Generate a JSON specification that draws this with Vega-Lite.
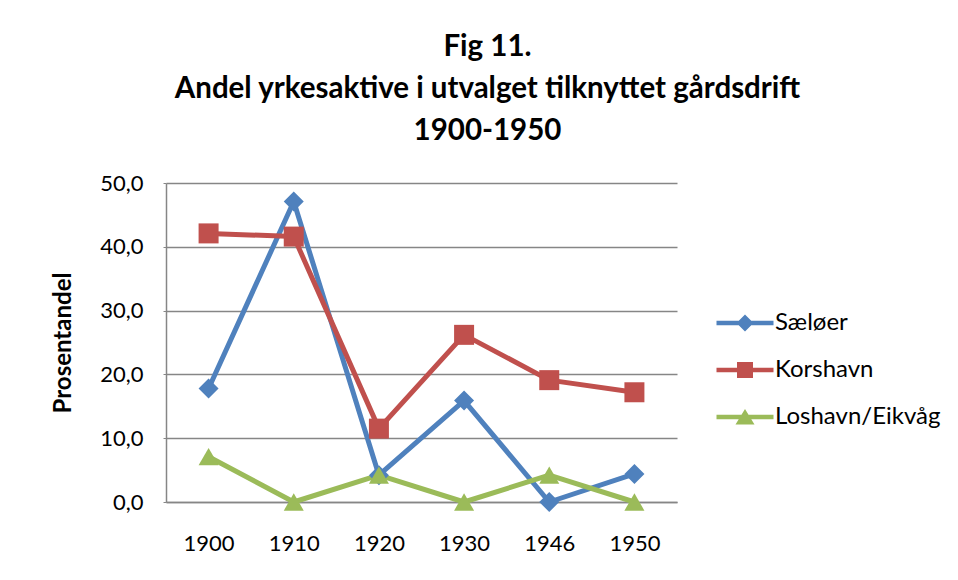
{
  "$schema": "https://vega.github.io/schema/vega-lite/v6.json",
  "width": 511,
  "height": 319,
  "autosize": {"type": "none"},
  "padding": {"left": 166, "top": 183, "right": 281, "bottom": 78},
  "background": "white",
  "title": {
    "text": ["Fig 11.", "Andel yrkesaktive i utvalget tilknyttet gårdsdrift", "1900-1950"],
    "font": "Lato",
    "fontSize": 29.5,
    "fontWeight": "bold",
    "color": "black",
    "anchor": "middle",
    "frame": "group",
    "dx": 66,
    "lineHeight": 42,
    "offset": 26
  },
  "data": {
    "values": [
      {"year": "1900", "series": "Sæløer", "value": 17.8},
      {"year": "1910", "series": "Sæløer", "value": 47.1},
      {"year": "1920", "series": "Sæløer", "value": 4.2},
      {"year": "1930", "series": "Sæløer", "value": 15.9},
      {"year": "1946", "series": "Sæløer", "value": 0.0},
      {"year": "1950", "series": "Sæløer", "value": 4.4},
      {"year": "1900", "series": "Korshavn", "value": 42.1},
      {"year": "1910", "series": "Korshavn", "value": 41.6},
      {"year": "1920", "series": "Korshavn", "value": 11.5},
      {"year": "1930", "series": "Korshavn", "value": 26.2},
      {"year": "1946", "series": "Korshavn", "value": 19.1},
      {"year": "1950", "series": "Korshavn", "value": 17.2},
      {"year": "1900", "series": "Loshavn/Eikvåg", "value": 7.1},
      {"year": "1910", "series": "Loshavn/Eikvåg", "value": 0.0},
      {"year": "1920", "series": "Loshavn/Eikvåg", "value": 4.2},
      {"year": "1930", "series": "Loshavn/Eikvåg", "value": 0.0},
      {"year": "1946", "series": "Loshavn/Eikvåg", "value": 4.2},
      {"year": "1950", "series": "Loshavn/Eikvåg", "value": 0.0}
    ]
  },
  "encoding": {
    "x": {
      "field": "year",
      "type": "ordinal",
      "scale": {"type": "point", "padding": 0.5},
      "axis": {
        "title": null,
        "labelAngle": 0,
        "labelFont": "Lato",
        "labelFontSize": 22,
        "labelColor": "black",
        "labelPadding": 31,
        "ticks": false,
        "domainColor": "#868686",
        "domainWidth": 1.5,
        "grid": false
      }
    },
    "y": {
      "field": "value",
      "type": "quantitative",
      "scale": {"domain": [0, 50], "nice": false},
      "axis": {
        "title": "Prosentandel",
        "titleFont": "Lato",
        "titleFontSize": 24,
        "titleFontWeight": "bold",
        "titleColor": "black",
        "titlePadding": 24,
        "values": [0, 10, 20, 30, 40, 50],
        "labelExpr": "replace(format(datum.value, '.1f'), '.', ',')",
        "labelFont": "Lato",
        "labelFontSize": 22,
        "labelColor": "black",
        "labelPadding": 20,
        "tickSize": 3,
        "tickColor": "#868686",
        "domainColor": "#868686",
        "domainWidth": 1.5,
        "gridColor": "#868686",
        "gridWidth": 1.5
      }
    },
    "color": {
      "field": "series",
      "type": "nominal",
      "sort": ["Sæløer", "Korshavn", "Loshavn/Eikvåg"],
      "scale": {
        "domain": ["Sæløer", "Korshavn", "Loshavn/Eikvåg"],
        "range": ["#4F81BD", "#C0504D", "#9BBB59"]
      },
      "legend": {
        "title": null,
        "orient": "none",
        "legendX": 567,
        "legendY": 128,
        "padding": 0,
        "symbolSize": 400,
        "symbolStrokeWidth": 0,
        "symbolOpacity": 1,
        "labelFont": "Lato",
        "labelFontSize": 24,
        "labelColor": "black",
        "labelOffset": 18,
        "labelLimit": 0,
        "rowPadding": 23
      }
    }
  },
  "layer": [
    {
      "mark": {"type": "line", "strokeWidth": 5, "strokeJoin": "round", "strokeCap": "round"}
    },
    {
      "transform": [{"filter": "datum.series === 'Sæløer'"}],
      "mark": {"type": "point", "shape": "diamond", "filled": true, "opacity": 1, "size": 400, "strokeWidth": 0}
    },
    {
      "transform": [{"filter": "datum.series === 'Korshavn'"}],
      "mark": {"type": "point", "shape": "square", "filled": true, "opacity": 1, "size": 400, "strokeWidth": 0}
    },
    {
      "transform": [{"filter": "datum.series === 'Loshavn/Eikvåg'"}],
      "mark": {"type": "point", "shape": "triangle-up", "filled": true, "opacity": 1, "size": 400, "strokeWidth": 0}
    },
    {
      "mark": {"type": "point", "filled": true, "opacity": 1, "size": 0, "strokeWidth": 0},
      "encoding": {
        "shape": {
          "field": "series",
          "type": "nominal",
          "scale": {
            "domain": ["Sæløer", "Korshavn", "Loshavn/Eikvåg"],
            "range": [
              "M-2.85,-0.22H2.85V0.22H-2.85Z M0,-0.85L0.85,0L0,0.85L-0.85,0Z",
              "M-2.85,-0.22H2.85V0.22H-2.85Z M-0.8,-0.8H0.8V0.8H-0.8Z",
              "M-2.85,-0.22H2.85V0.22H-2.85Z M0,-0.8L0.95,0.75H-0.95Z"
            ]
          }
        }
      }
    }
  ],
  "config": {
    "view": {"stroke": null}
  }
}
